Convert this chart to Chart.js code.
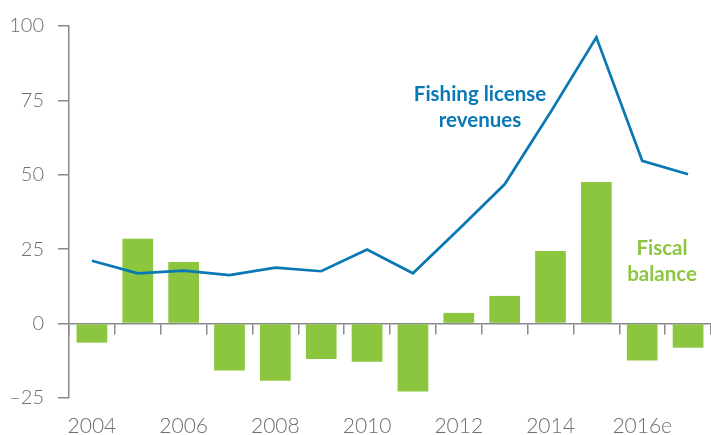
<!DOCTYPE html>
<html>
<head>
<meta charset="utf-8">
<script src="https://cdn.jsdelivr.net/npm/chart.js@4"></script>
<style>
  body { margin: 0; background: #fff; }
  #wrap { width: 711px; height: 435px; position: relative; }
</style>
</head>
<body>
<div id="wrap"><canvas id="chart"></canvas></div>
<script>
const years = ['2004', '2005', '2006', '2007', '2008', '2009', '2010', '2011', '2012', '2013', '2014', '2015', '2016', '2017'];
const yearLabels = ['2004', '', '2006', '', '2008', '', '2010', '', '2012', '', '2014', '', '2016e', ''];
const fishingRevenues = [21.1, 16.9, 17.8, 16.3, 18.8, 17.6, 24.9, 16.9, 31.7, 46.8, 71.0, 96.2, 54.7, 50.2];
const fiscalBalance = [-6.4, 28.5, 20.7, -15.8, -19.2, -11.9, -12.8, -22.8, 3.6, 9.3, 24.4, 47.6, -12.4, -8.1];
const yTicks = [-25, 0, 25, 50, 75, 100];

const gray = '#6d6e71';
const axisGray = '#8a8a8c';
const blue = '#0a78b5';
const green = '#8cc63f';

// text labels next to the series
const seriesNotes = {
    id: 'seriesNotes',
    afterDatasetsDraw(chart) {
        const ctx = chart.ctx;
        ctx.save();
        ctx.font = 'bold 20.5px Lato';
        ctx.textAlign = 'center';
        ctx.textBaseline = 'middle';
        ctx.fillStyle = blue;
        ctx.fillText('Fishing license', 480, 94);
        ctx.fillText('revenues', 480, 120);
        ctx.fillStyle = green;
        ctx.fillText('Fiscal', 662, 248);
        ctx.fillText('balance', 662, 274);
        ctx.restore();
    }
};

new Chart(document.getElementById('chart'), {
    type: 'bar',
    data: {
        labels: years,
        datasets: [
            {
                type: 'line',
                label: 'Fishing license revenues',
                data: fishingRevenues,
                borderColor: blue,
                borderWidth: 2.7,
                pointRadius: 0,
                tension: 0,
                fill: false,
                order: 0
            },
            {
                label: 'Fiscal balance',
                data: fiscalBalance,
                backgroundColor: green,
                barPercentage: 0.67,
                categoryPercentage: 1,
                order: 1
            }
        ]
    },
    options: {
        responsive: true,
        maintainAspectRatio: false,
        animation: false,
        devicePixelRatio: 1,
        layout: { padding: { top: 18, left: 8, right: 0, bottom: 0 } },
        plugins: {
            legend: { display: false },
            tooltip: { enabled: false }
        },
        scales: {
            x: {
                type: 'category',
                position: { y: 0 },
                offset: true,
                grid: {
                    offset: true,
                    drawOnChartArea: false,
                    drawTicks: true,
                    tickLength: 10,
                    color: axisGray,
                    lineWidth: 1.5
                },
                border: { display: true, color: axisGray, width: 1.5 },
                ticks: { display: false }
            },
            x2: {
                type: 'category',
                labels: yearLabels,
                position: 'bottom',
                offset: true,
                grid: { display: false },
                border: { display: false },
                ticks: {
                    autoSkip: false,
                    maxRotation: 0,
                    padding: 10,
                    color: gray,
                    font: { family: 'Lato', size: 21, weight: 300, lineHeight: 1 }
                },
                afterFit(scale) { scale.height = 37; }
            },
            y: {
                min: -25,
                max: 100,
                afterBuildTicks(scale) {
                    scale.ticks = yTicks.map(v => ({ value: v }));
                },
                afterFit(scale) { scale.width = 61; },
                grid: {
                    drawOnChartArea: false,
                    drawTicks: true,
                    tickLength: 11,
                    color: axisGray,
                    lineWidth: 1.5
                },
                border: { display: true, color: axisGray, width: 1.5 },
                ticks: {
                    padding: 14,
                    color: gray,
                    font: { family: 'Lato', size: 20, weight: 300 },
                    callback: v => String(v).replace('-', '\u2013')
                }
            }
        }
    },
    plugins: [seriesNotes]
});
</script>
</body>
</html>
